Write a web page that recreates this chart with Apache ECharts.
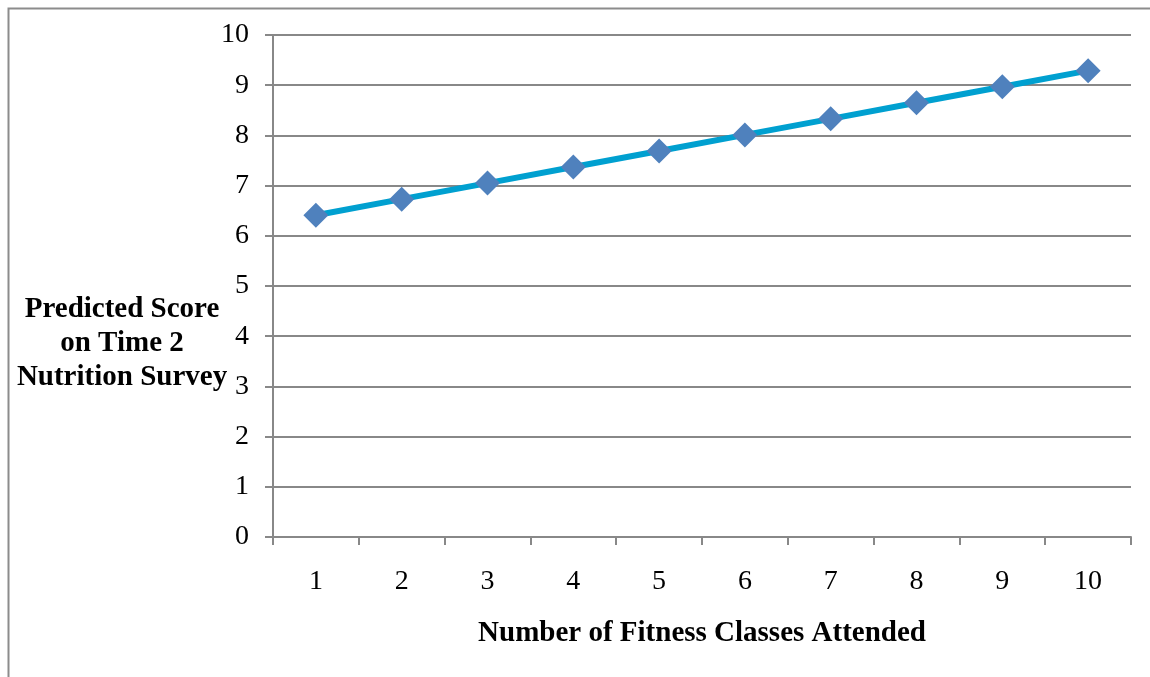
<!DOCTYPE html>
<html>
<head>
<meta charset="utf-8">
<script src="https://cdn.jsdelivr.net/npm/echarts@6/dist/echarts.min.js"></script>
<style>
  html, body { margin: 0; padding: 0; background: #fff; }
  #chart { width: 1150px; height: 677px; }
</style>
</head>
<body>
<div id="chart"></div>
<script>
// Classes attended (x categories) and predicted nutrition score
const classes = ['1', '2', '3', '4', '5', '6', '7', '8', '9', '10'];
const predictedScore = [6.41, 6.73, 7.05, 7.37, 7.69, 8.01, 8.33, 8.65, 8.97, 9.29];
const yTicks = { min: 0, max: 10, interval: 1 };

const serif = '"Liberation Serif", "Times New Roman", serif';
const axisGrey = '#888888';

const chart = echarts.init(document.getElementById('chart'));
chart.setOption({
  animation: false,
  backgroundColor: '#ffffff',
  graphic: [{
    type: 'rect',
    shape: { x: 8.5, y: 8.5, width: 1200, height: 800 },
    style: { fill: 'none', stroke: '#8c8c8c', lineWidth: 2 },
    silent: true
  }, {
    type: 'text',
    x: 122, y: 344,
    style: {
      text: 'Predicted Score\non Time 2\nNutrition Survey',
      font: 'bold 29px ' + serif,
      fill: '#000',
      align: 'center',
      verticalAlign: 'middle',
      lineHeight: 34
    }
  }],
  grid: { left: 273, right: 19, top: 35, bottom: 140, containLabel: false },
  xAxis: {
    type: 'category',
    data: classes,
    boundaryGap: true,
    name: 'Number of Fitness Classes Attended',
    nameLocation: 'middle',
    nameGap: 82,
    nameTextStyle: { fontFamily: serif, fontSize: 29, fontWeight: 'bold', color: '#000' },
    axisLine: { lineStyle: { color: axisGrey, width: 2 } },
    axisTick: { show: true, length: 8, lineStyle: { color: axisGrey, width: 2 } },
    axisLabel: { fontFamily: serif, fontSize: 28, color: '#000', margin: 31 },
    splitLine: { show: false }
  },
  yAxis: {
    type: 'value',
    min: yTicks.min, max: yTicks.max, interval: yTicks.interval,
    axisLine: { show: true, lineStyle: { color: axisGrey, width: 2 } },
    axisTick: { show: true, length: 8, lineStyle: { color: axisGrey, width: 2 } },
    axisLabel: { fontFamily: serif, fontSize: 28, color: '#000', margin: 24 },
    splitLine: { show: true, lineStyle: { color: axisGrey, width: 2 } }
  },
  series: [{
    type: 'line',
    data: predictedScore,
    symbol: 'diamond',
    symbolSize: 25,
    itemStyle: { color: '#4F81BD' },
    lineStyle: { color: '#00A0D0', width: 6 }
  }]
});
</script>
</body>
</html>
